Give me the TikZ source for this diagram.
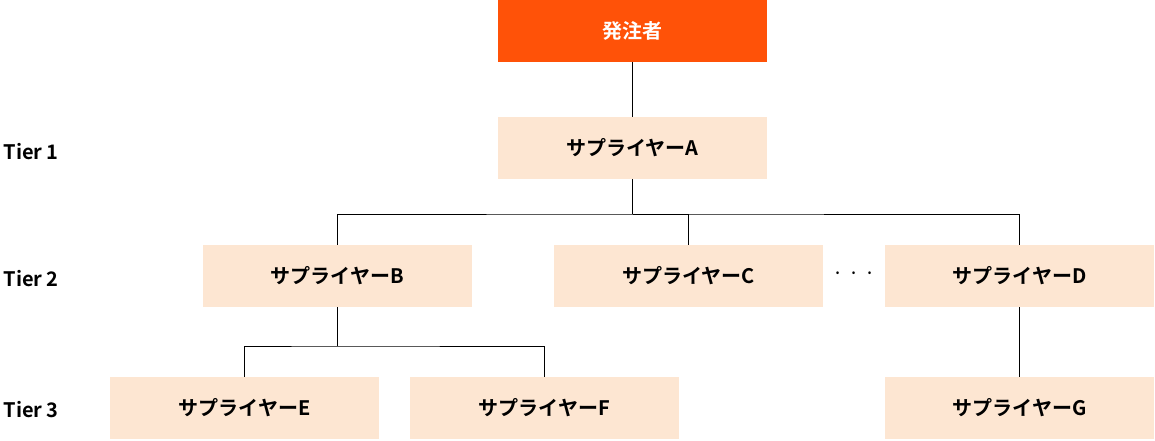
\documentclass[tikz,border=0pt]{standalone}
\usepackage{fontspec}
\setmainfont{Noto Sans CJK JP}[BoldFont={* Bold}]
\newfontfamily\jpb{Noto Sans CJK JP Bold}
\definecolor{org}{HTML}{FF5208}
\definecolor{pch}{HTML}{FDE6D2}
\begin{document}
\begin{tikzpicture}[x=1pt,y=-1pt,
 box/.style={minimum width=269pt,minimum height=62pt,inner sep=0pt,font=\jpb\fontsize{20}{24}\selectfont},
 sup/.style={box,fill=pch,text=black},
 ln/.style={draw=black,line width=0.8pt},
 tier/.style={anchor=west,font=\jpb\fontsize{20}{24}\selectfont}]
\useasboundingbox (0,0) rectangle (1155,440);
\node[box,fill=org,text=white] (O) at (632.5,31) {発注者};
\node[sup] (A) at (632.5,148) {サプライヤーA};
\node[sup] (B) at (337.5,276) {サプライヤーB};
\node[sup] (C) at (688.5,276) {サプライヤーC};
\node[sup] (D) at (1019.5,276) {サプライヤーD};
\node[sup] (E) at (244.5,408) {サプライヤーE};
\node[sup] (F) at (544.5,408) {サプライヤーF};
\node[sup] (G) at (1019.5,408) {サプライヤーG};
\node[tier] (t1) at (0,152) {Tier 1};
\node[tier] (t2) at (0,279) {Tier 2};
\node[tier] (t3) at (0,410) {Tier 3};
\node[font=\fontsize{20}{24}\selectfont] (dots) at (854,276) {· · ·};
\coordinate (a1) at (632.5,214);
\coordinate (b1) at (337.5,346);
\draw[ln] (O) -- (A);
\draw[ln] (A) -- (a1);
\draw[ln] (B.north) |- (a1) -| (D.north);
\draw[ln] (a1) -| (C.north);
\draw[ln] (B) -- (b1);
\draw[ln] (E.north) |- (b1) -| (F.north);
\draw[ln] (D) -- (G);
\end{tikzpicture}
\end{document}
